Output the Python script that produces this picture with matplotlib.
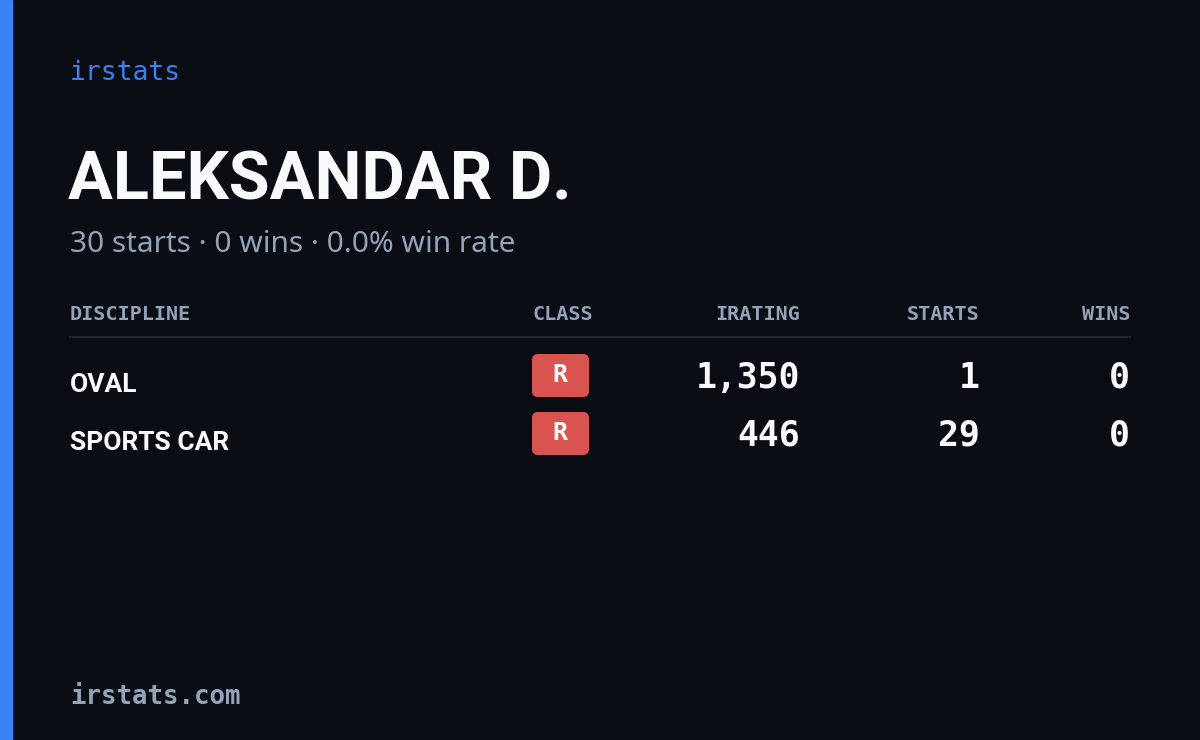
import matplotlib.pyplot as plt
from matplotlib.patches import FancyBboxPatch, Rectangle

# data
driver = "ALEKSANDAR D."
total_starts = 30
total_wins = 0
win_rate = 0.0
disciplines = ["OVAL", "SPORTS CAR"]
classes = ["R", "R"]
iratings = [1350, 446]
starts = [1, 29]
wins = [0, 0]
headers = ["DISCIPLINE", "CLASS", "IRATING", "STARTS", "WINS"]

BG = "#0a0d14"
BLUE = "#3b82f6"
GRAY = "#94a3b8"
WHITE = "#f8fafc"
RED = "#d9534f"
MONO = ["DejaVu Sans Mono"]
COND = ["Roboto", "DejaVu Sans"]
SANS = ["Noto Sans", "DejaVu Sans"]

fig = plt.figure(figsize=(12, 7.4), dpi=100)
fig.patch.set_facecolor(BG)
ax = fig.add_axes([0, 0, 1, 1])
ax.set_xlim(0, 1200)
ax.set_ylim(740, 0)
ax.axis("off")

ax.add_patch(Rectangle((0, 0), 12, 740, color=BLUE))

ax.text(70, 73, "irstats", color=BLUE, fontsize=19, family=MONO,
        va="center")
ax.text(68, 182, driver, color=WHITE, fontsize=48, family=COND,
        fontweight="bold", va="center")
ax.text(70, 245, f"{total_starts} starts · {total_wins} wins · {win_rate:.1f}% win rate",
        color=GRAY, fontsize=21.5, family=SANS, va="center")

# header
cols = [(70, "left"), (593, "right"), (800, "right"), (980, "right"), (1130, "right")]
for (x, ha), h in zip(cols, headers):
    ax.text(x, 314, h, color=GRAY, fontsize=14.5, family=MONO, ha=ha,
            va="center", fontweight="bold")
ax.plot([70, 1130], [337, 337], color="#1e2430", lw=1.5)

for i, d in enumerate(disciplines):
    y = 383 + i * 58
    ax.text(70, y + 2, d, color=WHITE, fontsize=19, family=COND,
            fontweight="bold", va="center")
    ax.add_patch(FancyBboxPatch((532, y - 29), 57, 43,
                                boxstyle="round,pad=0,rounding_size=6",
                                color=RED, lw=0))
    ax.text(560, y - 8, classes[i], color=WHITE, fontsize=18, family=MONO,
            fontweight="bold", ha="center", va="center")
    ax.text(800, y - 5, f"{iratings[i]:,}", color=WHITE, fontsize=25,
            family=MONO, fontweight="bold", ha="right", va="center")
    ax.text(980, y - 5, str(starts[i]), color=WHITE, fontsize=25,
            family=MONO, fontweight="bold", ha="right", va="center")
    ax.text(1130, y - 5, str(wins[i]), color=WHITE, fontsize=25,
            family=MONO, fontweight="bold", ha="right", va="center")

ax.text(70, 697, "irstats.com", color=GRAY, fontsize=18.5, family=MONO,
        fontweight="bold", va="center")

fig.savefig("out.png", dpi=100, facecolor=BG)
